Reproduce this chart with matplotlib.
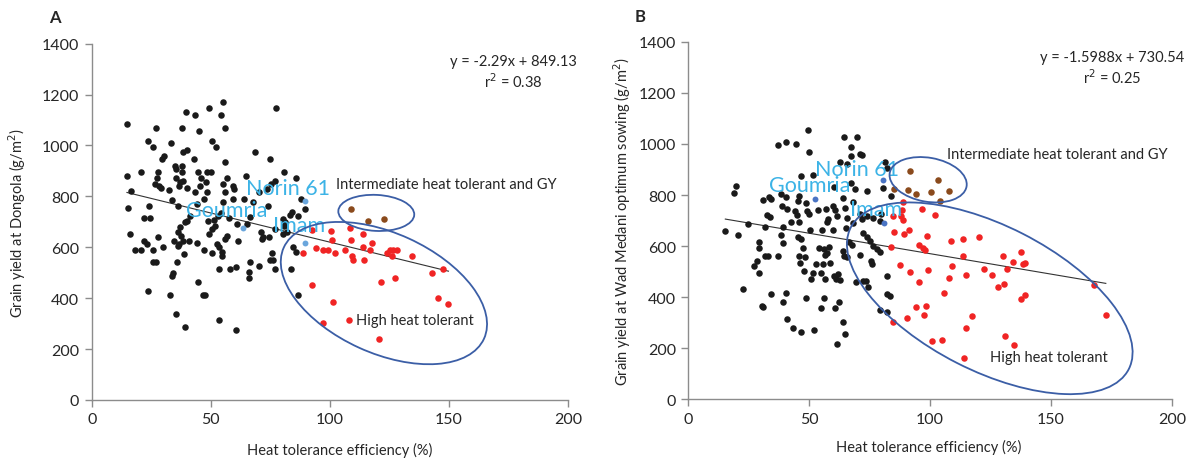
import matplotlib
matplotlib.use("Agg")
import matplotlib.pyplot as plt
import numpy as np
from matplotlib.patches import Ellipse
from matplotlib.transforms import IdentityTransform

plt.rcParams['font.family'] = ['Lato', 'DejaVu Sans']

# ---------------- Panel A data (Dongola) ----------------
a_black_x = [55.0, 77.3, 39.6, 43.5, 49.4, 54.5, 14.8, 26.9, 37.9, 45.1, 56.1, 23.8, 25.8, 33.2, 50.7, 52.1,
             68.5, 38.4, 40.2, 30.4, 29.4, 43.1, 75.0, 55.9, 35.0, 37.9, 14.8, 20.6, 27.9, 35.5, 37.8, 44.5,
             48.6, 50.0, 64.8, 80.8, 85.7, 27.4, 35.4, 37.1, 38.5, 45.9, 48.0, 45.4, 56.7, 77.0, 75.5, 73.7,
             26.7, 28.4, 29.2, 32.5, 36.8, 40.2, 43.4, 55.3, 59.5, 59.8, 16.4, 48.6, 56.1, 70.3, 33.9, 36.1,
             47.1, 44.1, 55.3, 59.5, 64.0, 67.9, 87.8, 15.4, 23.9, 74.2, 89.6, 21.8, 24.5, 41.3, 39.9, 39.1,
             48.9, 51.4, 53.2, 54.3, 57.6, 60.9, 65.1, 66.5, 80.5, 80.8, 83.4, 16.1, 37.1, 36.3, 37.6, 50.5,
             49.2, 51.8, 56.7, 55.9, 61.6, 71.1, 72.1, 74.5, 77.0, 18.3, 20.6, 22.1, 23.4, 28.0, 30.1, 25.8,
             34.5, 36.8, 38.5, 40.9, 36.1, 44.4, 47.2, 52.5, 53.6, 54.7, 54.9, 50.4, 38.8, 75.8, 74.9, 76.1,
             26.9, 25.9, 35.8, 66.6, 60.6, 58.1, 53.6, 70.2, 77.0, 83.6, 66.2, 66.2, 34.2, 33.7, 44.8, 23.8,
             32.9, 46.6, 47.7, 86.7, 35.5, 53.6, 39.3, 60.6, 84.7, 85.8, 84.0, 86.8, 81.2, 81.9, 71.4, 80.5]
a_black_y = [1170, 1146, 1131, 1120, 1146, 1120, 1085, 1070, 1070, 1058, 1070, 1019, 993, 1010, 1019, 993,
             973, 973, 984, 960, 947, 947, 947, 934, 921, 921, 881, 897, 897, 908, 897, 897,
             897, 897, 881, 897, 871, 871, 871, 856, 862, 871, 858, 842, 871, 862, 849, 829,
             849, 840, 833, 824, 842, 833, 816, 849, 842, 829, 821, 816, 816, 816, 786, 764,
             790, 770, 777, 790, 790, 777, 790, 753, 764, 764, 751, 714, 714, 724, 705, 698,
             705, 709, 724, 735, 714, 692, 692, 718, 711, 685, 727, 652, 679, 659, 646, 672,
             652, 683, 646, 633, 626, 661, 639, 639, 672, 590, 590, 626, 613, 639, 600, 590,
             626, 613, 626, 626, 604, 617, 588, 613, 600, 583, 567, 577, 575, 578, 551, 551,
             541, 541, 541, 541, 524, 515, 515, 528, 515, 515, 504, 478, 499, 486, 463, 427,
             413, 414, 414, 414, 339, 316, 288, 275, 600, 580, 740, 724, 698, 659, 633, 652]

a_red_x = [92.7, 100.4, 108.4, 114.1, 101.0, 108.7, 117.9, 88.9, 94.2, 97.0, 99.4, 102.2, 106.4, 114.1,
           116.9, 109.5, 109.9, 114.5, 123.9, 125.3, 126.7, 128.4, 126.1, 134.5, 142.9, 147.5, 127.3,
           121.3, 92.4, 101.5, 145.4, 149.8, 97.2, 108.2, 120.6]
a_red_y = [669, 663, 677, 652, 628, 628, 617, 578, 599, 591, 591, 578, 590, 600,
           591, 565, 551, 551, 578, 591, 591, 591, 565, 565, 499, 515, 478,
           463, 452, 386, 402, 377, 301, 316, 239]

a_brown_x = [108.7, 116.2, 122.9]
a_brown_y = [749, 702, 713]

a_check_names = ["Goumria", "Norin 61", "Imam"]
a_check_x = [63.4, 89.4, 89.7]
a_check_y = [677, 780, 617]

a_slope, a_intercept = -2.29, 849.13
a_eq_text = "y = -2.29x + 849.13"
a_r2_text = "r$^2$ = 0.38"

# ---------------- Panel B data (Wad Medani) ----------------
b_black_x = [49.5, 64.4, 69.7, 37.1, 40.4, 44.7, 50.1, 67.3, 67.2, 71.0, 71.9, 62.8, 65.5, 81.3, 51.7, 46.5,
             19.7, 19.0, 38.5, 30.8, 33.5, 34.1, 60.3, 67.2, 74.1, 69.0, 80.4, 82.3, 84.0, 45.7, 40.4, 38.8,
             40.7, 45.4, 48.7, 44.3, 45.1, 49.0, 49.8, 53.8, 57.0, 59.7, 60.6, 64.1, 64.7, 68.3, 71.0, 32.4,
             33.8, 42.4, 45.7, 57.9, 57.5, 61.6, 65.5, 71.7, 73.8, 76.5, 79.6, 79.3, 24.8, 15.3, 20.7, 31.7,
             39.3, 50.4, 55.3, 59.7, 65.1, 68.3, 72.4, 73.8, 75.2, 76.5, 77.9, 79.3, 38.5, 45.4, 46.8, 39.3,
             29.1, 29.1, 47.3, 54.2, 56.1, 58.1, 57.3, 56.7, 63.9, 64.4, 65.5, 66.6, 67.7, 71.0, 31.9, 33.0,
             37.1, 45.9, 48.4, 46.2, 27.2, 28.5, 52.8, 55.9, 58.6, 29.4, 47.9, 51.5, 50.9, 55.0, 56.7, 60.3,
             61.9, 61.1, 62.8, 69.4, 72.2, 73.5, 75.7, 76.0, 74.3, 22.8, 34.1, 40.4, 39.3, 48.6, 56.3, 54.8,
             62.5, 60.8, 30.5, 31.0, 82.1, 82.1, 83.5, 79.3, 82.3, 41.0, 63.9, 43.4, 46.5, 52.0, 64.7, 61.4]
b_black_y = [1055, 1026, 1026, 996, 1007, 999, 970, 987, 954, 961, 958, 928, 922, 931, 879, 874,
             837, 809, 804, 782, 791, 785, 832, 847, 816, 824, 829, 905, 795, 795, 791, 759,
             746, 778, 768, 739, 722, 739, 726, 743, 746, 759, 741, 788, 751, 772, 725, 722,
             713, 694, 694, 706, 694, 717, 712, 706, 717, 712, 725, 700, 686, 658, 645, 676,
             674, 665, 665, 665, 671, 691, 652, 636, 622, 602, 589, 578, 645, 637, 628, 613,
             618, 594, 594, 594, 589, 596, 573, 567, 582, 563, 557, 618, 605, 566, 560, 562,
             560, 563, 557, 534, 524, 543, 530, 530, 533, 494, 503, 494, 472, 494, 472, 485,
             491, 472, 469, 459, 465, 465, 542, 530, 442, 432, 412, 417, 383, 398, 396, 359,
             380, 359, 367, 362, 485, 412, 406, 349, 341, 315, 305, 279, 263, 271, 255, 217]

b_red_x = [84.8, 90.4, 87.7, 84.0, 85.1, 89.1, 91.4, 84.8, 88.0, 89.0, 88.5, 88.7, 96.7, 102.2, 98.6,
           95.5, 97.0, 98.1, 108.6, 113.7, 120.4, 113.7, 130.3, 137.7, 134.3, 138.4, 139.3, 91.6, 99.2,
           109.0, 114.8, 122.3, 125.7, 131.7, 107.9, 95.4, 128.3, 130.7, 105.9, 137.7, 139.3, 168.0,
           172.7, 94.1, 98.2, 97.5, 117.5, 115.0, 131.0, 134.6, 100.8, 105.1, 113.9]
b_red_y = [302, 318, 528, 596, 657, 648, 665, 717, 717, 703, 742, 774, 746, 723, 639,
           605, 592, 584, 622, 628, 635, 563, 560, 576, 537, 530, 534, 498, 507,
           523, 487, 511, 487, 511, 477, 461, 441, 452, 416, 393, 409, 449,
           332, 361, 367, 331, 328, 281, 250, 212, 229, 233, 162]

b_brown_x = [91.8, 103.2, 85.1, 91.0, 94.3, 100.4, 108.0, 104.1]
b_brown_y = [893, 860, 824, 821, 804, 813, 815, 778]

b_check_names = ["Goumria", "Norin 61", "Imam"]
b_check_x = [52.5, 80.7, 81.0]
b_check_y = [784, 860, 690]

b_slope, b_intercept = -1.5988, 730.54
b_eq_text = "y = -1.5988x + 730.54"
b_r2_text = "r$^2$ = 0.25"

# ---------------- Figure ----------------
W, H = 1194, 464
fig = plt.figure(figsize=(W / 100, H / 100), dpi=100)
axA = fig.add_axes([0.0768, 0.1358, 0.3989, 0.768])
axB = fig.add_axes([0.5765, 0.1369, 0.4049, 0.7709])

AXIS_GRAY = '#8c8c8c'
TXT = '#262626'
BLACK_PT = '#1a1a1a'
RED_PT = '#f02424'
BROWN_PT = '#8a4a1c'
LABEL_BLUE = '#3cb3e6'
ELL_BLUE = '#3b5ea6'


def style_axes(ax):
    ax.set_xlim(0, 200)
    ax.set_ylim(0, 1400)
    ax.set_xticks(np.arange(0, 201, 50))
    ax.set_yticks(np.arange(0, 1401, 200))
    for s in ['top', 'right']:
        ax.spines[s].set_visible(False)
    for s in ['left', 'bottom']:
        ax.spines[s].set_color(AXIS_GRAY)
        ax.spines[s].set_linewidth(1.0)
    ax.tick_params(axis='both', direction='out', length=5, width=1.0, color=AXIS_GRAY,
                   labelsize=11.5, labelcolor=TXT, pad=4)


def draw_panel(ax, bx, by, rx, ry, brx, bry, cx, cy, check_color, slope, intercept):
    ax.scatter(bx, by, s=22, color=BLACK_PT, linewidths=0, zorder=3)
    ax.scatter(rx, ry, s=22, color=RED_PT, linewidths=0, zorder=3)
    ax.scatter(brx, bry, s=22, color=BROWN_PT, linewidths=0, zorder=3)
    ax.scatter(cx, cy, s=18, color=check_color, linewidths=0, zorder=3)
    allx = np.concatenate([bx, rx, brx, cx])
    xs = np.array([allx.min(), allx.max()])
    ax.plot(xs, slope * xs + intercept, color='#333333', lw=0.8, zorder=2)


def ellipse(ax, center, w, h, angle):
    cd = ax.transData.transform(center)
    e = Ellipse(xy=cd, width=w, height=h, angle=angle, transform=IdentityTransform(),
                fill=False, edgecolor=ELL_BLUE, lw=1.3, clip_on=False, zorder=4)
    fig.add_artist(e)


style_axes(axA)
style_axes(axB)

draw_panel(axA, a_black_x, a_black_y, a_red_x, a_red_y, a_brown_x, a_brown_y,
           a_check_x, a_check_y, '#6aa6dc', a_slope, a_intercept)
draw_panel(axB, b_black_x, b_black_y, b_red_x, b_red_y, b_brown_x, b_brown_y,
           b_check_x, b_check_y, '#4a74c4', b_slope, b_intercept)

# cultivar labels
a_label_pos = {"Goumria": (39.6, 748), "Norin 61": (64.9, 833), "Imam": (76.2, 686)}
b_label_pos = {"Goumria": (33.5, 840), "Norin 61": (52.6, 902), "Imam": (66.9, 746)}
for ax, pos in [(axA, a_label_pos), (axB, b_label_pos)]:
    for name, (x, y) in pos.items():
        ax.text(x, y, name, color=LABEL_BLUE, fontsize=15.5, ha='left', va='center', zorder=5)

# group labels
axA.text(102.7, 849, "Intermediate heat tolerant and GY", fontsize=10.5, color=TXT, ha='left', va='center')
axA.text(111, 314, "High heat tolerant", fontsize=10.5, color=TXT, ha='left', va='center')
axB.text(106.9, 961, "Intermediate heat tolerant and GY", fontsize=10.5, color=TXT, ha='left', va='center')
axB.text(124.8, 165, "High heat tolerant", fontsize=10.5, color=TXT, ha='left', va='center')

# equations
axA.text(177, 1333, a_eq_text, fontsize=10.5, color=TXT, ha='center', va='center')
axA.text(177, 1255, a_r2_text, fontsize=10.5, color=TXT, ha='center', va='center')
axB.text(175.3, 1341, b_eq_text, fontsize=10.5, color=TXT, ha='center', va='center')
axB.text(175.3, 1263, b_r2_text, fontsize=10.5, color=TXT, ha='center', va='center')

# axis labels
axA.set_xlabel("Heat tolerance efficiency (%)", fontsize=10.5, color=TXT, va='center')
axA.xaxis.set_label_coords(0.52, -0.1375)
axA.set_ylabel("Grain yield at Dongola (g/m$^2$)", fontsize=10.5, color=TXT, va='center')
axA.yaxis.set_label_coords(-0.157, 0.5)
axB.set_xlabel("Heat tolerance efficiency (%)", fontsize=10.5, color=TXT, va='center')
axB.xaxis.set_label_coords(0.498, -0.130)
axB.set_ylabel("Grain yield at Wad Medani optimum sowing (g/m$^2$)", fontsize=10.5, color=TXT, va='center')
axB.yaxis.set_label_coords(-0.136, 0.5)

# panel letters
fig.text(0.046, 0.962, "A", fontsize=12, fontweight='bold', color=TXT, ha='center', va='center')
fig.text(0.536, 0.964, "B", fontsize=12, fontweight='bold', color=TXT, ha='center', va='center')

# group ellipses (annotation outlines, pixel-sized, centred on data positions)
ellipse(axA, (119.5, 735), 76, 36, -3)
ellipse(axA, (122.7, 420), 220, 120, -24.5)
ellipse(axB, (99.2, 860), 78, 44, -10)
ellipse(axB, (124.7, 396), 312, 145, -27)

fig.savefig("out.png", dpi=100)
